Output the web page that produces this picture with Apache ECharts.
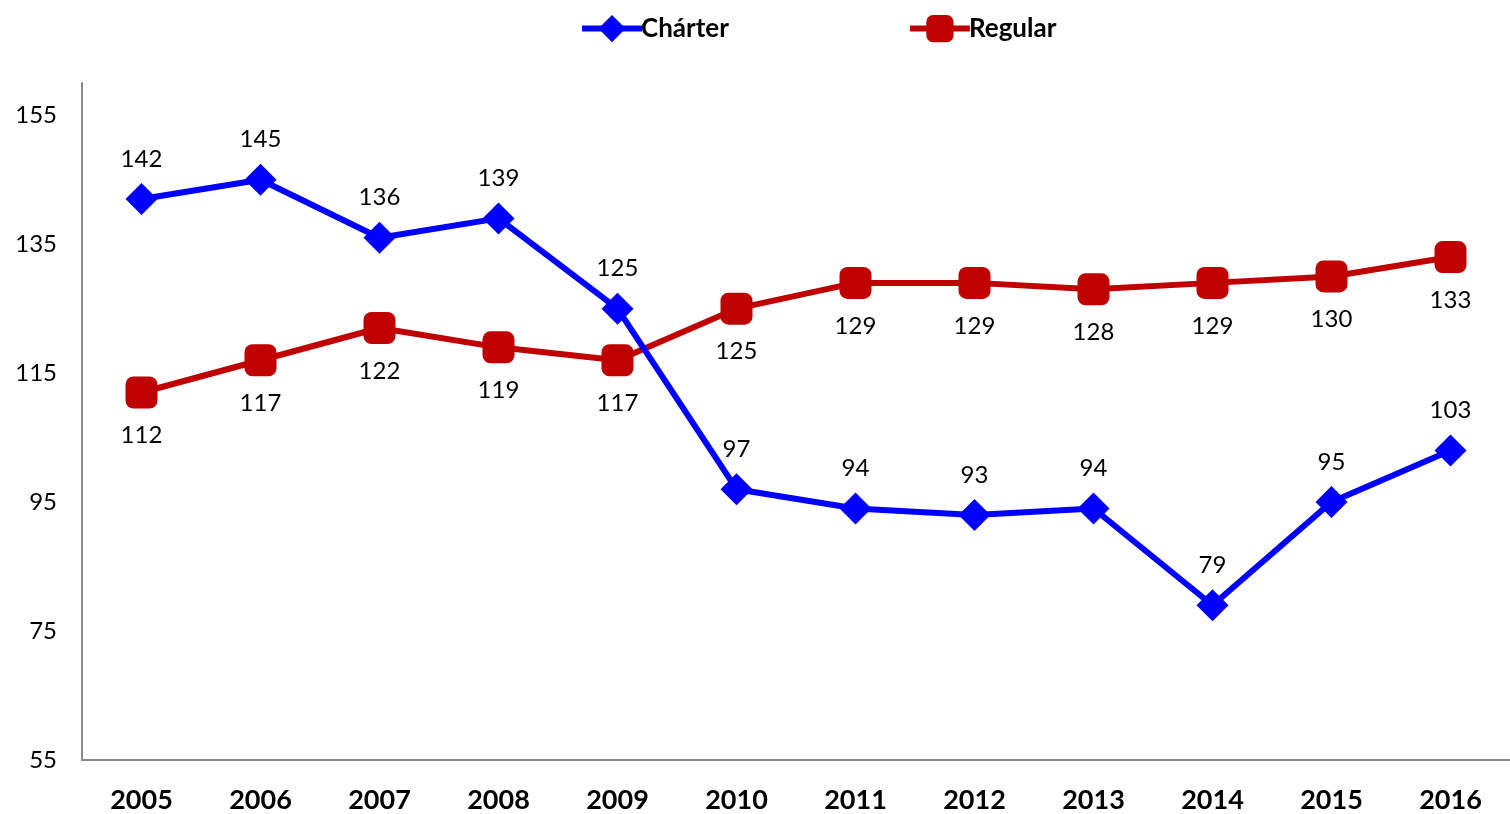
<!DOCTYPE html>
<html>
<head>
<meta charset="utf-8">
<script src="https://cdn.jsdelivr.net/npm/echarts@6/dist/echarts.min.js"></script>
<style>
  html, body { margin: 0; padding: 0; background: #ffffff; }
  #chart { width: 1510px; height: 814px; }
</style>
</head>
<body>
<div id="chart"></div>
<script>
// categories
const years = ['2005', '2006', '2007', '2008', '2009', '2010', '2011', '2012', '2013', '2014', '2015', '2016']
// series values
const charterData = [142, 145, 136, 139, 125, 97, 94, 93, 94, 79, 95, 103]
const regularData = [112, 117, 122, 119, 117, 125, 129, 129, 128, 129, 130, 133]
// y axis tick labels
const yTicks = [55, 75, 95, 115, 135, 155]

const font = 'Lato, "Open Sans", sans-serif'

const myChart = echarts.init(document.getElementById('chart'))

const makeSeries = (name, data, color, symbol, labelPos, dist) => ({
  name: name,
  type: 'line',
  data: data,
  symbol: symbol,
  symbolSize: 32,
  itemStyle: { color: color },
  lineStyle: { width: 6, color: color },
  label: {
    show: true,
    position: labelPos,
    distance: dist,
    color: '#000000',
    fontFamily: font,
    fontSize: 24
  },
  z: symbol === 'diamond' ? 3 : 2
})

const option = {
  animation: false,
  backgroundColor: '#ffffff',
  grid: {
    left: 82,
    width: 1432,
    top: 83,
    bottom: 54,
    containLabel: false
  },
  legend: {
    top: 10,
    left: 574,
    itemWidth: 60,
    itemHeight: 34,
    itemGap: 178,
    lineStyle: { width: 6 },
    textStyle: {
      fontFamily: font,
      fontSize: 26,
      fontWeight: 'bold',
      color: '#000000',
      padding: [0, 0, 0, -6]
    },
    data: ['Chárter', 'Regular']
  },
  xAxis: {
    type: 'category',
    data: years,
    boundaryGap: true,
    axisTick: { show: false },
    axisLine: { lineStyle: { color: '#888888', width: 2 } },
    axisLabel: {
      margin: 27,
      fontFamily: font,
      fontSize: 27,
      fontWeight: 'bold',
      color: '#000000'
    },
    splitLine: { show: false }
  },
  yAxis: {
    type: 'value',
    min: 55,
    max: 160,
    axisLine: { show: true, lineStyle: { color: '#888888', width: 2 } },
    axisTick: { show: false },
    splitLine: { show: false },
    axisLabel: {
      customValues: yTicks,
      margin: 25,
      fontFamily: font,
      fontSize: 24,
      color: '#000000'
    }
  },
  series: [
    makeSeries('Chárter', charterData, '#0000ff', 'diamond', 'top', 12),
    makeSeries('Regular', regularData, '#c00000', 'roundRect', 'bottom', 15)
  ]
}

myChart.setOption(option, true)
addEventListener('resize', () => {
  myChart.resize()
})
</script>
</body>
</html>
